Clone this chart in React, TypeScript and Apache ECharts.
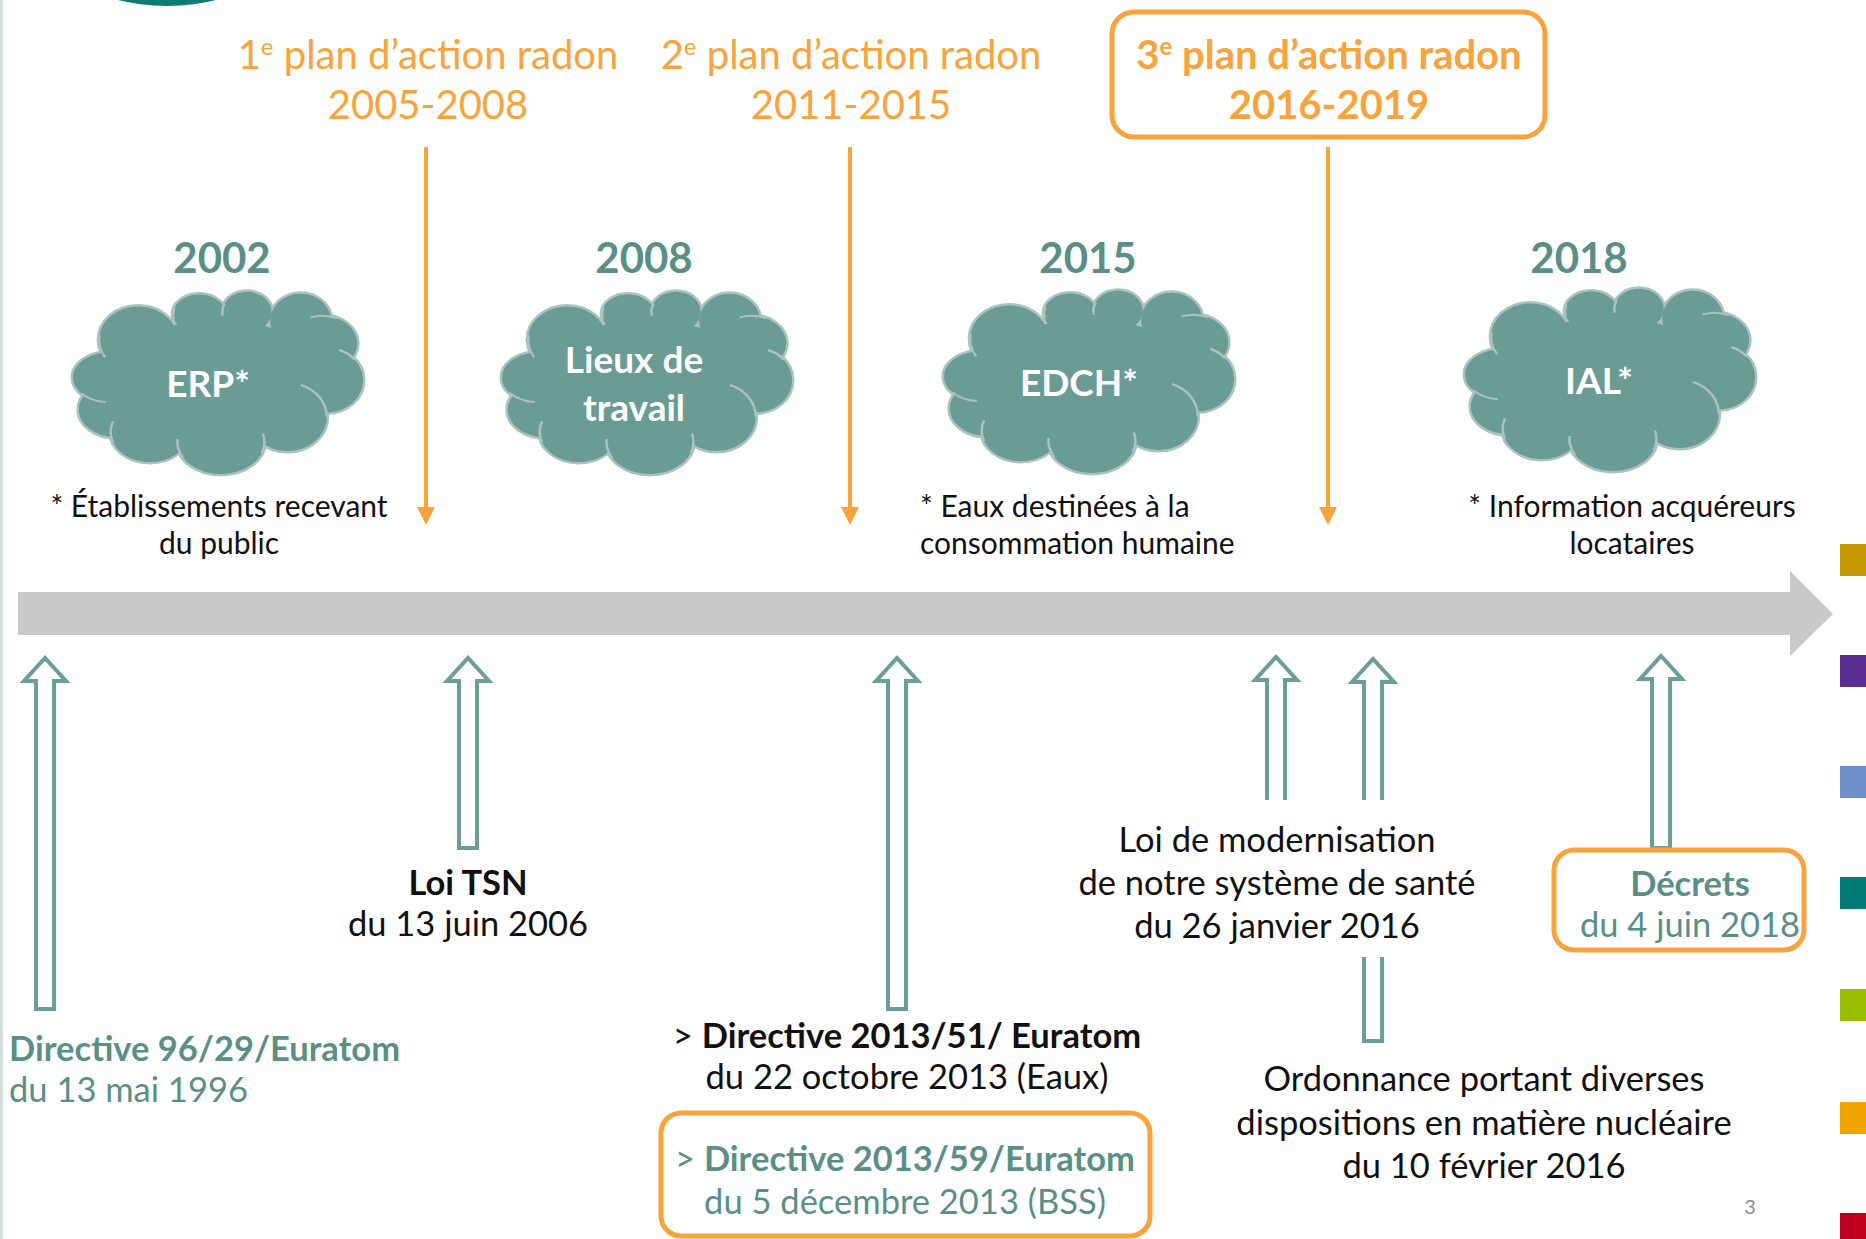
import React, { useEffect, useRef } from "react";
import * as echarts from "echarts";

// ---------- DATA ----------
const planOrdinals = ["1", "2", "3"];
const planSuffix = "e";
const planTitle = "plan d’action radon";
const planPeriods = ["2005-2008", "2011-2015", "2016-2019"];

const cloudYears = ["2002", "2008", "2015", "2018"];
const cloudLabels = ["ERP*", "Lieux de\ntravail", "EDCH*", "IAL*"];
const cloudNotes = [
  "* Établissements recevant\ndu public",
  "",
  "* Eaux destinées à la\nconsommation humaine",
  "* Information acquéreurs\nlocataires",
];

const eventPrefixes = ["", "", "> ", "> ", "", "", ""];
const eventTitles = [
  "Directive 96/29/Euratom",
  "Loi TSN",
  "Directive 2013/51/ Euratom",
  "Directive 2013/59/Euratom",
  "Loi de modernisation\nde notre système de santé",
  "Ordonnance portant diverses\ndispositions en matière nucléaire",
  "Décrets",
];
const eventDates = [
  "du 13 mai 1996",
  "du 13 juin 2006",
  "du 22 octobre 2013 (Eaux)",
  "du 5 décembre 2013 (BSS)",
  "du 26 janvier 2016",
  "du 10 février 2016",
  "du 4 juin 2018",
];
const pageNumber = "3";

// ---------- LAYOUT & STYLE ----------
const W = 1866;
const H = 1239;
const FONT = "Lato, 'Open Sans', sans-serif";
const ORANGE = "#F9A33C";
const TEAL_TEXT = "#5B8F86";
const TEAL_ARROW = "#6A9E96";
const CLOUD_FILL = "#6A9C94";
const CLOUD_EDGE = "#A9C3BF";
const BLACK = "#111111";
const BODY_FS = 34.5;
const PLAN_FS = 40;
const SUP_FS = 24;

const planLayout = [
  { x: 428, boxed: false },
  { x: 851, boxed: false },
  { x: 1329, boxed: true },
];
const planLine1Y = 54;
const planLine2Y = 104;
const planSupY = 45;
const planBox = { x: 1112, y: 12, w: 433, h: 125 };
const planArrowX = [426, 850, 1328];

const cloudLayout = [
  { cx: 218, cy: 382, yearX: 222, labelX: 208, noteX: 219, noteAlign: "center" },
  { cx: 647, cy: 382, yearX: 644, labelX: 634, noteX: 647, noteAlign: "center" },
  { cx: 1089, cy: 381, yearX: 1088, labelX: 1079, noteX: 920, noteAlign: "left" },
  { cx: 1610, cy: 379, yearX: 1579, labelX: 1599, noteX: 1632, noteAlign: "center" },
];
const CLOUD_W = 290;
const CLOUD_H = 184;
const cloudLobes: number[][] = [
  [-0.75, -0.05, 0.25, 0.27],
  [-0.55, -0.46, 0.27, 0.36],
  [-0.13, -0.74, 0.18, 0.21],
  [0.2, -0.76, 0.17, 0.22],
  [0.57, -0.66, 0.21, 0.3],
  [0.72, -0.42, 0.24, 0.3],
  [0.75, -0.02, 0.25, 0.35],
  [0.48, 0.38, 0.27, 0.37],
  [0.02, 0.65, 0.3, 0.35],
  [-0.47, 0.54, 0.27, 0.33],
  [-0.7, 0.3, 0.26, 0.3],
  [0, 0, 0.72, 0.68],
];
// inner arcs: lobe index, start deg, end deg
const cloudInnerArcs: number[][] = [
  [1, 148, 188],
  [2, 165, 200],
  [3, 170, 205],
  [5, -110, -65],
  [6, -70, -40],
  [7, -70, 0],
  [0, 95, 140],
  [9, 160, 200],
  [8, 150, 185],
  [8, -15, 20],
];

const upArrows = [
  { x: 45, top: 658, bottom: 1009, head: true, closed: true },
  { x: 468, top: 658, bottom: 848, head: true, closed: true },
  { x: 897, top: 658, bottom: 1009, head: true, closed: true },
  { x: 1276, top: 657, bottom: 800, head: true, closed: false },
  { x: 1373, top: 659, bottom: 800, head: true, closed: false },
  { x: 1373, top: 957, bottom: 1041, head: false, closed: true },
  { x: 1661, top: 656, bottom: 848, head: true, closed: true },
];

const eventLayout = [
  { x: 9, y: 1068, align: "left", color: TEAL_TEXT, titleColor: TEAL_TEXT, lh: 41 },
  { x: 468, y: 902, align: "center", color: BLACK, titleColor: BLACK, lh: 41 },
  { x: 907, y: 1055, align: "center", color: BLACK, titleColor: BLACK, lh: 41 },
  { x: 905, y: 1179, align: "center", color: TEAL_TEXT, titleColor: TEAL_TEXT, lh: 43 },
  { x: 1277, y: 881, align: "center", color: BLACK, titleColor: BLACK, lh: 43, titleBold: false },
  { x: 1484, y: 1121, align: "center", color: BLACK, titleColor: BLACK, lh: 43.5, titleBold: false },
  { x: 1690, y: 903, align: "center", color: TEAL_TEXT, titleColor: TEAL_TEXT, lh: 41 },
];
const eventBoxes = [
  { x: 661, y: 1113, w: 489, h: 123 },
  { x: 1554, y: 850, w: 250, h: 100 },
];

const sideColors = ["#C49A00", "#5C2D91", "#6E8FC9", "#007A74", "#9ABF00", "#F2A500", "#C0001E"];
const sideTops = [544, 655, 766, 877, 989, 1102, 1213];

let measureCtx: CanvasRenderingContext2D | null = null;
function measure(text: string, size: number, weight: string) {
  if (!measureCtx) measureCtx = document.createElement("canvas").getContext("2d");
  if (!measureCtx) return text.length * size * 0.5;
  measureCtx.font = `${weight} ${size}px ${FONT}`;
  return measureCtx.measureText(text).width;
}

function textEl(x: number, y: number, text: string, opt: any) {
  const align = opt.align || "center";
  return {
    type: "text",
    x,
    y,
    z: opt.z || 10,
    style: {
      text,
      fontFamily: FONT,
      fontSize: opt.fontSize || BODY_FS,
      fontWeight: opt.fontWeight || "normal",
      fill: opt.fill || BLACK,
      align,
      textAlign: align,
      verticalAlign: "middle",
      textVerticalAlign: "middle",
      lineHeight: opt.lineHeight,
      rich: opt.rich,
    },
  };
}

function buildGraphics() {
  const els: any[] = [];

  els.push({ type: "rect", shape: { x: 0, y: 0, width: 3, height: H }, style: { fill: "#D5E0DE" } });
  els.push({ type: "circle", shape: { cx: 167, cy: -197, r: 203 }, style: { fill: "#0B7B74" } });

  // plan labels (ordinal + superscript + title, then period)
  planOrdinals.forEach((ord, i) => {
    const lay = planLayout[i];
    const weight = lay.boxed ? "bold" : "normal";
    const rest = ` ${planTitle}`;
    const w1 = measure(ord, PLAN_FS, weight);
    const w2 = measure(planSuffix, SUP_FS, weight);
    const w3 = measure(rest, PLAN_FS, weight);
    const x0 = lay.x - (w1 + w2 + w3) / 2;
    els.push(textEl(x0, planLine1Y, ord, { fontSize: PLAN_FS, fontWeight: weight, fill: ORANGE, align: "left" }));
    els.push(textEl(x0 + w1, planSupY, planSuffix, { fontSize: SUP_FS, fontWeight: weight, fill: ORANGE, align: "left" }));
    els.push(textEl(x0 + w1 + w2, planLine1Y, rest, { fontSize: PLAN_FS, fontWeight: weight, fill: ORANGE, align: "left" }));
    els.push(textEl(lay.x, planLine2Y, planPeriods[i], { fontSize: PLAN_FS, fontWeight: weight, fill: ORANGE }));
    if (lay.boxed) {
      els.push({
        type: "rect",
        shape: { x: planBox.x, y: planBox.y, width: planBox.w, height: planBox.h, r: 22 },
        style: { fill: "none", stroke: ORANGE, lineWidth: 5 },
      });
    }
  });

  planArrowX.forEach((x) => {
    els.push({ type: "line", shape: { x1: x, y1: 147, x2: x, y2: 510 }, style: { stroke: ORANGE, lineWidth: 4 } });
    els.push({
      type: "polygon",
      shape: { points: [[x - 9, 507], [x + 9, 507], [x, 525]] },
      style: { fill: ORANGE },
    });
  });

  // clouds
  cloudYears.forEach((year, i) => {
    const c = cloudLayout[i];
    els.push(textEl(c.yearX, 257, year, { fontSize: 42, fontWeight: "bold", fill: TEAL_TEXT }));
    const edge: any[] = [];
    const fill: any[] = [];
    const arcs: any[] = [];
    cloudLobes.forEach(([u, v, ru, rv]) => {
      const shape = { cx: (u * CLOUD_W) / 2, cy: (v * CLOUD_H) / 2, rx: (ru * CLOUD_W) / 2, ry: (rv * CLOUD_H) / 2 };
      edge.push({ type: "ellipse", shape, style: { fill: CLOUD_FILL, stroke: CLOUD_EDGE, lineWidth: 5 } });
      fill.push({ type: "ellipse", shape, style: { fill: CLOUD_FILL } });
    });
    cloudInnerArcs.forEach(([li, a0, a1]) => {
      const [u, v, ru, rv] = cloudLobes[li];
      const rx = (ru * CLOUD_W) / 2;
      const ry = (rv * CLOUD_H) / 2;
      arcs.push({
        type: "group",
        x: (u * CLOUD_W) / 2,
        y: (v * CLOUD_H) / 2,
        scaleY: ry / rx,
        children: [
          {
            type: "arc",
            shape: { cx: 0, cy: 0, r: rx, startAngle: (a0 * Math.PI) / 180, endAngle: (a1 * Math.PI) / 180, clockwise: true },
            style: { fill: "none", stroke: CLOUD_EDGE, lineWidth: 2.5 },
          },
        ],
      });
    });
    els.push({ type: "group", x: c.cx, y: c.cy, children: [...edge, ...fill, ...arcs] });
    els.push(
      textEl(c.labelX, c.cy, cloudLabels[i], { fontSize: 37, fontWeight: "bold", fill: "#FFFFFF", lineHeight: 48, z: 12 })
    );
    if (cloudNotes[i]) {
      els.push(textEl(c.noteX, 523, cloudNotes[i], { fontSize: 30, fill: BLACK, lineHeight: 37, align: c.noteAlign }));
    }
  });

  // grey timeline arrow
  els.push({
    type: "polygon",
    shape: {
      points: [
        [18, 592],
        [1790, 592],
        [1790, 571],
        [1833, 614],
        [1790, 656],
        [1790, 635],
        [18, 635],
      ],
    },
    style: { fill: "#C9C9C9" },
  });

  // hollow teal arrows
  const s = 9;
  const hw = 21;
  const hh = 23;
  upArrows.forEach((a) => {
    const { x, top, bottom } = a;
    let pts: number[][];
    if (a.head) {
      pts = [
        [x - s, bottom],
        [x - s, top + hh],
        [x - hw, top + hh],
        [x, top],
        [x + hw, top + hh],
        [x + s, top + hh],
        [x + s, bottom],
      ];
    } else {
      pts = [
        [x - s, top],
        [x - s, bottom],
        [x + s, bottom],
        [x + s, top],
      ];
    }
    if (a.head && a.closed) {
      els.push({ type: "polygon", shape: { points: pts }, style: { fill: "#FFFFFF", stroke: TEAL_ARROW, lineWidth: 4 } });
    } else {
      els.push({ type: "polyline", shape: { points: pts }, style: { fill: "none", stroke: TEAL_ARROW, lineWidth: 4 } });
    }
  });

  eventBoxes.forEach((b) => {
    els.push({
      type: "rect",
      shape: { x: b.x, y: b.y, width: b.w, height: b.h, r: 20 },
      style: { fill: "#FFFFFF", stroke: ORANGE, lineWidth: 5 },
      z: 5,
    });
  });

  eventTitles.forEach((title, i) => {
    const lay: any = eventLayout[i];
    const titleBold = lay.titleBold === false ? "normal" : "bold";
    const rich = {
      p: { fontFamily: FONT, fontSize: BODY_FS, fontWeight: "normal", fill: lay.titleColor, lineHeight: lay.lh },
      t: { fontFamily: FONT, fontSize: BODY_FS, fontWeight: titleBold, fill: lay.titleColor, lineHeight: lay.lh },
      d: { fontFamily: FONT, fontSize: BODY_FS, fontWeight: "normal", fill: lay.color, lineHeight: lay.lh },
    };
    const lines = title.split("\n");
    const parts = lines.map((ln, k) => (k === 0 && eventPrefixes[i] ? `{p|${eventPrefixes[i]}}{t|${ln}}` : `{t|${ln}}`));
    parts.push(`{d|${eventDates[i]}}`);
    els.push(textEl(lay.x, lay.y, parts.join("\n"), { rich, lineHeight: lay.lh, fontSize: BODY_FS, align: lay.align }));
  });

  els.push(textEl(1750, 1206, pageNumber, { fontSize: 20, fill: "#8C8C8C" }));

  sideColors.forEach((col, i) => {
    els.push({ type: "rect", shape: { x: 1840, y: sideTops[i], width: 30, height: 32 }, style: { fill: col } });
  });

  return els;
}

export default function App() {
  const ref = useRef<HTMLDivElement>(null);
  useEffect(() => {
    if (!ref.current) return;
    const chart = echarts.init(ref.current, undefined, { renderer: "svg", width: W, height: H });
    chart.setOption({
      animation: false,
      backgroundColor: "#FFFFFF",
      graphic: { elements: buildGraphics() },
    });
    return () => chart.dispose();
  }, []);
  return (
    <div
      ref={ref}
      style={{ position: "absolute", left: 0, top: 0, width: W, height: H, background: "#FFFFFF" }}
    />
  );
}
